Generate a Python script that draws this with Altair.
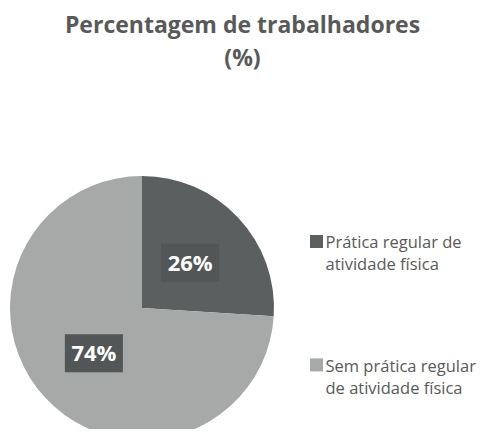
import altair as alt
import pandas as pd

categories = ["Prática regular de|atividade física", "Sem prática regular|de atividade física"]
values = [26, 74]
labels = ["26%", "74%"]
order = [0, 1]

df = pd.DataFrame({"cat": categories, "val": values, "lab": labels, "ord": order})

DARK = "#5B5F5F"
LIGHT = "#A6A9A8"
BOX = "#525656"
TXT = "#595959"
FONT = "Open Sans"
CX, CY, R, RL = 134, 220, 132, 66

color_scale = alt.Scale(domain=categories, range=[DARK, LIGHT])

pie = (
    alt.Chart(df)
    .mark_arc(radius=R, x=CX, y=CY)
    .encode(
        theta=alt.Theta("val:Q", stack=True),
        order=alt.Order("ord:Q"),
        color=alt.Color("cat:N", scale=color_scale, legend=None),
    )
)

lab_base = (
    alt.Chart(df)
    .transform_joinaggregate(total="sum(val)")
    .transform_window(cum="sum(val)", sort=[alt.SortField("ord")])
    .transform_calculate(mid="(datum.cum - datum.val / 2) / datum.total * 2 * PI")
    .transform_calculate(
        px=f"{CX} + {RL} * sin(datum.mid)",
        py=f"{CY} - {RL} * cos(datum.mid)",
    )
    .encode(
        x=alt.X("px:Q", scale=None, axis=None),
        y=alt.Y("py:Q", scale=None, axis=None),
    )
)

boxes = lab_base.mark_point(
    shape="M-1,-0.655H1V0.655H-1Z",
    size=3364,
    filled=True,
    opacity=1,
    color=BOX,
    strokeWidth=0,
)

texts = lab_base.mark_text(
    font=FONT,
    fontSize=22,
    fontWeight="bold",
    color="white",
    dy=1,
).encode(text="lab:N")

# custom legend (allows line height control)
leg_base = alt.Chart(df).transform_calculate(
    ly="160.3 + datum.ord * 123.4",
    sy="153.5 + datum.ord * 123.4",
)

leg_sym = leg_base.mark_point(
    shape="square", size=169, filled=True, opacity=1, strokeWidth=0
).encode(
    x=alt.value(308.5),
    y=alt.Y("sy:Q", scale=None, axis=None),
    color=alt.Color("cat:N", scale=color_scale, legend=None),
)

leg_txt = leg_base.mark_text(
    font=FONT,
    fontSize=16.5,
    color=TXT,
    align="left",
    baseline="alphabetic",
    lineBreak="|",
    lineHeight=22,
).encode(
    x=alt.value(317.5),
    y=alt.Y("ly:Q", scale=None, axis=None),
    text="cat:N",
)

chart = (
    alt.layer(pie, boxes, texts, leg_sym, leg_txt)
    .properties(
        width=469,
        height=341,
        padding={"left": 0, "top": 80, "right": 0, "bottom": 0},
        autosize=alt.AutoSizeParams(type="none"),
        title=alt.Title(
            ["Percentagem de trabalhadores", "(%)"],
            font=FONT,
            fontSize=23,
            fontWeight="bold",
            color=TXT,
            lineHeight=33,
            anchor="middle",
            offset=17,
        ),
    )
    .configure_view(stroke=None)
)

chart.save("out.html", embed_options={"renderer": "svg", "actions": False})
